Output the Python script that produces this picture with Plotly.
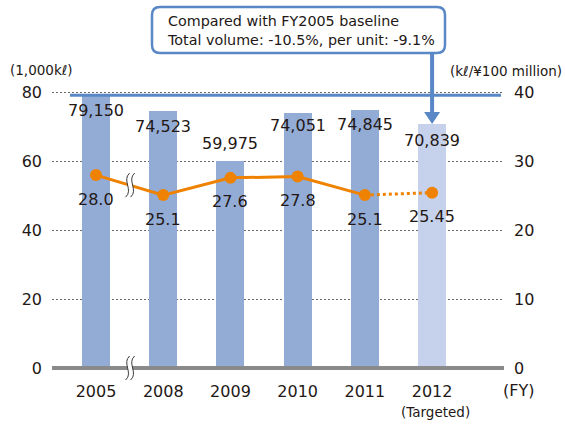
import plotly.graph_objects as go

# ---- data -------------------------------------------------------------
fiscal_years = ["2005", "2008", "2009", "2010", "2011", "2012"]
target_note = "(Targeted)"
volume_kl = [79150, 74523, 59975, 74051, 74845, 70839]      # total volume (kℓ)
per_unit = [28.0, 25.1, 27.6, 27.8, 25.1, 25.45]            # kℓ per ¥100 million
left_ticks = [0, 20, 40, 60, 80]
right_ticks = [0, 10, 20, 30, 40]
callout_lines = ["Compared with FY2005 baseline",
                 "Total volume: -10.5%, per unit: -9.1%"]
left_unit = "(1,000kℓ)"
right_unit = "(kℓ/¥100 million)"
x_unit = "(FY)"

# ---- style ------------------------------------------------------------
FONT = "DejaVu Sans, Liberation Sans, Arial, sans-serif"
TEXT = "#231815"
BAR = "#93ACD5"
BAR_TARGET = "#C6D1EB"
ORANGE = "#EF8200"
BLUE = "#5A88C6"
AXIS_GRAY = "#8A8A8A"
GRID = "#6A6A6A"
BIG = 16
SMALL = 13.5

W, H = 565, 424
L, R, T, B = 52, 61, 89, 56
PW, PH = W - L - R, H - T - B
Y_MAX = 81            # left axis top; right axis is half of it

def xp(px):
    return (px - L) / PW

def yp(py):
    return (H - B - py) / PH

xpos = list(range(len(fiscal_years)))
volume_k = [v / 1000 for v in volume_kl]
bar_colors = [BAR] * (len(xpos) - 1) + [BAR_TARGET]

def fmt_unit(v):
    s = f"{v:.2f}"
    return s[:-1] if s.endswith("0") else s

fig = go.Figure()

fig.add_trace(go.Bar(
    x=xpos, y=volume_k, width=0.417,
    marker=dict(color=bar_colors, line=dict(width=0)),
    hoverinfo="skip", showlegend=False,
))

# actual results: solid line, target year: dotted segment
fig.add_trace(go.Scatter(
    x=xpos[:-1], y=per_unit[:-1], yaxis="y2", mode="lines",
    line=dict(color=ORANGE, width=3), hoverinfo="skip", showlegend=False,
))
fig.add_trace(go.Scatter(
    x=xpos[-2:], y=per_unit[-2:], yaxis="y2", mode="lines",
    line=dict(color=ORANGE, width=3, dash="3px,3px"),
    hoverinfo="skip", showlegend=False,
))
fig.add_trace(go.Scatter(
    x=xpos, y=per_unit, yaxis="y2", mode="markers",
    marker=dict(color=ORANGE, size=12, line=dict(width=0)),
    hoverinfo="skip", showlegend=False,
))

def label(**kw):
    base = dict(showarrow=False, xanchor="center", yanchor="middle")
    base.update(kw)
    return base

annotations = []
# volume labels near the bar tops
bar_label_shift = [-15, -15, 18, -13, -14, -16]
for x, v, s in zip(xpos, volume_kl, bar_label_shift):
    annotations.append(label(
        x=x, y=v / 1000, xref="x", yref="y", text=f"{v:,}", yshift=s,
        font=dict(size=BIG, color=TEXT, family=FONT)))
# intensity labels under the markers
for x, v in zip(xpos, per_unit):
    annotations.append(label(
        x=x, y=v, xref="x", yref="y2", text=fmt_unit(v), yshift=-24,
        font=dict(size=BIG, color=TEXT, family=FONT)))

annotations += [
    label(x=xpos[-1], y=yp(412), xref="x", yref="paper", text=target_note,
          xshift=3, font=dict(size=SMALL, color=TEXT, family=FONT)),
    label(x=xp(518), y=yp(390), xref="paper", yref="paper", text=x_unit,
          font=dict(size=BIG, color=TEXT, family=FONT)),
    label(x=xp(8), y=yp(70), xref="paper", yref="paper", text=left_unit,
          xanchor="left", font=dict(size=SMALL, color=TEXT, family=FONT)),
    label(x=xp(564), y=yp(71), xref="paper", yref="paper", text=right_unit,
          xanchor="right", font=dict(size=SMALL, color=TEXT, family=FONT)),
    label(x=xp(165), y=yp(30.5), xref="paper", yref="paper",
          text="<br>".join(callout_lines), xanchor="left", align="left",
          font=dict(size=14.3, color=TEXT, family=FONT)),
]

# rounded callout box
bx0, bx1, by0, by1, rad = xp(152), xp(445), yp(53), yp(7), 8
rx, ry = rad / PW, rad / PH
box_path = (
    f"M {bx0 + rx},{by1} L {bx1 - rx},{by1} Q {bx1},{by1} {bx1},{by1 - ry} "
    f"L {bx1},{by0 + ry} Q {bx1},{by0} {bx1 - rx},{by0} "
    f"L {bx0 + rx},{by0} Q {bx0},{by0} {bx0},{by0 + ry} "
    f"L {bx0},{by1 - ry} Q {bx0},{by1} {bx0 + rx},{by1} Z"
)

squiggle_fill = "M 2,12 C -6,5 6,-5 -2,-12 L 3,-12 C 11,-5 -1,5 7,12 Z"
squiggle_a = "M 2,12 C -6,5 6,-5 -2,-12"
squiggle_b = "M 7,12 C -1,5 11,-5 3,-12"
break_x = (xpos[0] + xpos[1]) / 2 - 0.03
break_line_y = (per_unit[0] + per_unit[1]) / 2

def squiggle(yref, yval):
    common = dict(type="path", xref="x", yref=yref, xsizemode="pixel",
                  ysizemode="pixel", xanchor=break_x, yanchor=yval)
    out = [dict(common, path=squiggle_fill, fillcolor="white",
                line=dict(width=0))]
    for p in (squiggle_a, squiggle_b):
        out.append(dict(common, path=p, line=dict(color="#3A3A3A", width=1)))
    return out

target_top = volume_k[-1] / Y_MAX          # bar top of the target year, paper units
shapes = [
    # zero line
    dict(type="line", xref="paper", yref="paper", x0=0, x1=1, y0=0, y1=0,
         line=dict(color=AXIS_GRAY, width=4)),
    # FY2005 baseline level
    dict(type="line", xref="paper", yref="y", x0=xp(70), x1=xp(501),
         y0=volume_k[0], y1=volume_k[0], line=dict(color=BLUE, width=3)),
    # callout box
    dict(type="path", xref="paper", yref="paper", path=box_path,
         fillcolor="white", line=dict(color=BLUE, width=2.5)),
    # pointer down to the target bar
    dict(type="line", xref="x", yref="paper", x0=xpos[-1], x1=xpos[-1],
         y0=by0, y1=target_top + 11 / PH, line=dict(color=BLUE, width=4)),
    dict(type="path", xref="x", yref="y", xsizemode="pixel", ysizemode="pixel",
         xanchor=xpos[-1], yanchor=volume_k[-1], path="M -8,12 L 8,12 L 0,0 Z",
         fillcolor=BLUE, line=dict(width=0)),
]
shapes += squiggle("paper", 0)
shapes += squiggle("y2", break_line_y)

fig.update_layout(
    width=W, height=H,
    margin=dict(l=L, r=R, t=T, b=B, pad=0),
    paper_bgcolor="white", plot_bgcolor="white",
    font=dict(family=FONT, color=TEXT, size=BIG),
    bargap=0, showlegend=False,
    xaxis=dict(range=[-0.655, 6.07], tickvals=xpos, ticktext=fiscal_years,
               showgrid=False, zeroline=False, showline=False, ticks="",
               ticklabelstandoff=12, tickfont=dict(size=BIG, color=TEXT),
               fixedrange=True),
    yaxis=dict(range=[0, Y_MAX], tickvals=left_ticks, showgrid=True,
               gridcolor=GRID, griddash="2px,2px", gridwidth=1,
               zeroline=False, showline=False, ticks="",
               ticklabelstandoff=9, tickfont=dict(size=BIG, color=TEXT),
               fixedrange=True),
    yaxis2=dict(range=[0, Y_MAX / 2], tickvals=right_ticks, overlaying="y",
                side="right", showgrid=False, zeroline=False, showline=False,
                ticks="", ticklabelstandoff=9,
                tickfont=dict(size=BIG, color=TEXT), fixedrange=True),
    annotations=annotations,
    shapes=shapes,
)

fig.write_html("out.html")
